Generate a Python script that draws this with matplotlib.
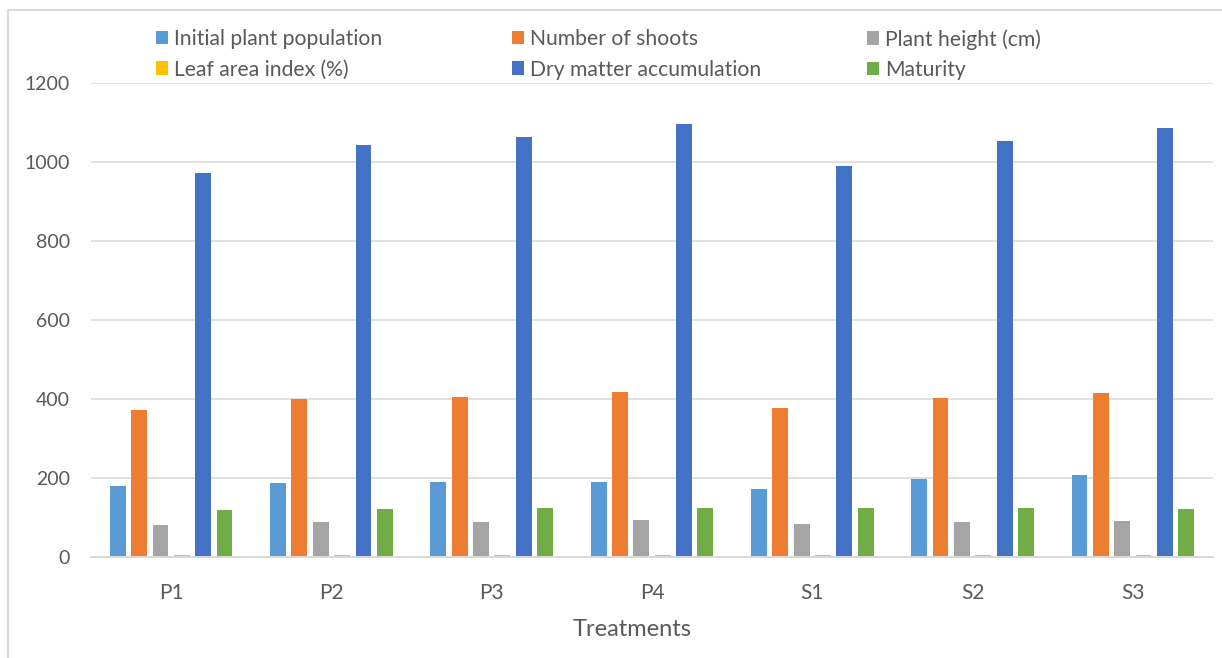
import matplotlib
matplotlib.use("Agg")
import matplotlib.pyplot as plt
from matplotlib.patches import Rectangle, Patch
import numpy as np

plt.rcParams['font.family'] = ['Lato', 'DejaVu Sans']

categories = ["P1", "P2", "P3", "P4", "S1", "S2", "S3"]
series_names = ["Initial plant population", "Number of shoots", "Plant height (cm)",
                "Leaf area index (%)", "Dry matter accumulation", "Maturity"]
initial_pop = [180, 186, 189, 189, 171, 196, 208]
num_shoots = [372, 399, 406, 418, 378, 402, 414]
plant_height = [80, 87, 89, 92, 82, 87, 90]
leaf_area = [4, 4, 4, 4, 4, 4, 4]
dry_matter = [972, 1043, 1063, 1096, 991, 1054, 1086]
maturity = [118, 122, 123, 124, 123, 123, 122]
y_ticks = [0, 200, 400, 600, 800, 1000, 1200]

series = [initial_pop, num_shoots, plant_height, leaf_area, dry_matter, maturity]
colors = ["#5B9BD5", "#ED7D31", "#A5A5A5", "#FFC000", "#4472C4", "#70AD47"]

W, H = 1222, 658
fig = plt.figure(figsize=(W / 100, H / 100), dpi=100)
ax = fig.add_axes([91 / W, (H - 556.7) / H, (1213 - 91) / W, (556.7 - 83.4) / H])

x = np.arange(len(categories))
pitch = 0.1333
bw = 0.099
for k, (vals, c) in enumerate(zip(series, colors)):
    ax.bar(x + (k - 2.5) * pitch, vals, width=bw, color=c, zorder=3, label=series_names[k])

ax.set_xlim(-0.5, len(categories) - 0.5)
ax.set_ylim(0, 1200)
ax.set_yticks(y_ticks)
ax.set_xticks(x)
ax.set_xticklabels(categories)
ax.grid(axis='y', color='#D9D9D9', linewidth=1.1, zorder=0)
for s in ['top', 'right', 'left']:
    ax.spines[s].set_visible(False)
ax.spines['bottom'].set_color('#D9D9D9')
ax.spines['bottom'].set_linewidth(1.4)
ax.spines['bottom'].set_zorder(4)
ax.tick_params(axis='y', length=0, pad=15, labelsize=14, labelcolor='#595959')
ax.tick_params(axis='x', length=0, pad=19, labelsize=15, labelcolor='#595959')

fig.text(632 / W, 1 - 629 / H, "Treatments", ha='center', va='center', fontsize=17, color='#595959')

# legend: three columns, two rows
col_x = [156, 512, 867]
for ci in range(3):
    idx = [ci, ci + 3]
    handles = [Patch(facecolor=colors[i], edgecolor='none') for i in idx]
    labels = [series_names[i] for i in idx]
    fig.legend(handles, labels, loc='upper left',
               bbox_to_anchor=(col_x[ci] / W, 1 - 29 / H),
               frameon=False, fontsize=15.2, handlelength=0.55, handleheight=0.6,
               handletextpad=0.3, labelspacing=0.5, borderpad=0, borderaxespad=0,
               labelcolor='#595959')

# chart border
fig.add_artist(Rectangle((8 / W, -0.05), 1.2, 1 - 10 / H + 0.05, transform=fig.transFigure,
                         fill=False, edgecolor='#D9D9D9', linewidth=1.5))

fig.savefig("out.png", dpi=100, facecolor='white')
